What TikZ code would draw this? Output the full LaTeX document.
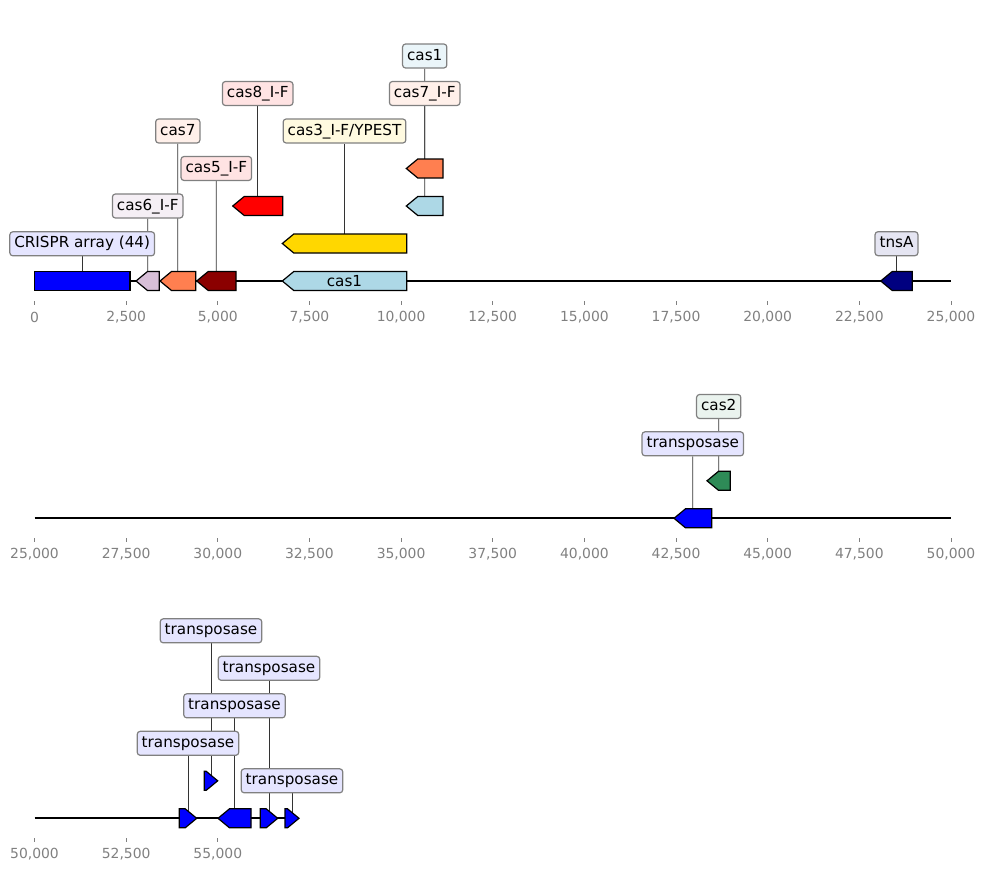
\documentclass[tikz,border=0pt]{standalone}
\usepackage{fontspec}
\setmainfont{DejaVu Sans}
\usetikzlibrary{backgrounds}

\definecolor{crispr}{HTML}{0000FF}
\definecolor{thistle}{HTML}{D8BFD8}
\definecolor{coral}{HTML}{FF7F50}
\definecolor{dred}{HTML}{8B0000}
\definecolor{lblue}{HTML}{ADD8E6}
\definecolor{gold}{HTML}{FFD700}
\definecolor{navy}{HTML}{000080}
\definecolor{sgreen}{HTML}{2E8B57}
\definecolor{axisgray}{HTML}{808080}

\newcommand{\lblfont}{\fontsize{15.2}{18}\selectfont}
\newcommand{\tickfont}{\fontsize{13.9}{16}\selectfont}

\pgfkeys{/pgf/number format/.cd, set thousands separator={,}, assume math mode=true}

\tikzset{
  lbl/.style={draw=axisgray, line width=1.2pt, rounded corners=3pt, inner xsep=4.5pt, inner ysep=4.5pt,
    font=\lblfont, text height=11.5pt, text depth=3.5pt},
  gene/.style={draw=black, line width=1.2pt, line join=miter},
  stem/.style={draw=black!80, line width=0.8pt},
  tickmark/.style={draw=axisgray, line width=1pt},
  ticklbl/.style={font=\tickfont, text=axisgray, inner sep=0pt},
  seq/.style={draw=black, line width=2pt}
}

% gene arrows: name, from, to, y, colour
\newcommand{\geneleft}[5]{%
  \pgfmathsetmacro{\hd}{min(11.5,#3-#2)}
  \filldraw[gene, fill=#5] (#3,#4-9.5) -- (#3,#4+9.5) -- (#2+\hd,#4+9.5) -- (#2,#4) -- (#2+\hd,#4-9.5) -- cycle;
  \coordinate (#1) at ({(#2+#3)/2},#4);}
\newcommand{\generight}[5]{%
  \pgfmathsetmacro{\hd}{min(11.5,#3-#2)}
  \filldraw[gene, fill=#5] (#2,#4-9.5) -- (#2,#4+9.5) -- (#3-\hd,#4+9.5) -- (#3,#4) -- (#3-\hd,#4-9.5) -- cycle;
  \coordinate (#1) at ({(#2+#3)/2},#4);}

\begin{document}
\begin{tikzpicture}[x=1pt, y=-1pt]
\useasboundingbox (0,0) rectangle (986,871);

% Row 1: 0 - 25,000
\foreach \i in {0,...,10} {
  \pgfmathsetmacro{\tx}{34.5+\i*91.65}
  \edef\tv{\the\numexpr\i*2500\relax}
  \draw[tickmark] (\tx,301) -- (\tx,305);
  \node[ticklbl] at (\tx,317) {\pgfmathprintnumber{\tv}};
}
\coordinate (s1a) at (34.5,281);
\coordinate (s1b) at (951,281);
\filldraw[gene, fill=crispr] (34.3,271.5) rectangle (130,290.5);
\coordinate (gcrispr) at (82.2,281);
\geneleft{gcasvi}{136}{159.3}{281}{thistle}
\geneleft{gcasvii}{160}{195.7}{281}{coral}
\geneleft{gcasv}{196.7}{236}{281}{dred}
\geneleft{gcasi}{282.3}{406.7}{281}{lblue}
\node[font=\lblfont] at (gcasi) {cas1};
\geneleft{gcasiii}{282.3}{406.7}{243.5}{gold}
\geneleft{gcasviii}{232.7}{282.7}{206}{red}
\geneleft{gcasib}{406.3}{443}{206}{lblue}
\geneleft{gcasviiif}{406.3}{443}{168.5}{coral}
\geneleft{gtnsa}{880.7}{912.3}{281}{navy}

\node[lbl, fill=crispr!10] (lcrispr) at (82.2,243.8) {CRISPR array (44)};
\node[lbl, fill=thistle!25] (lcasvi) at (147.7,206) {cas6\_I-F};
\node[lbl, fill=coral!12] (lcasvii) at (177.8,131) {cas7};
\node[lbl, fill=red!11] (lcasv) at (216.3,168.5) {cas5\_I-F};
\node[lbl, fill=red!11] (lcasviii) at (257.7,93.5) {cas8\_I-F};
\node[lbl, fill=gold!12] (lcasiii) at (344.5,131) {cas3\_I-F/YPEST};
\node[lbl, fill=coral!12] (lcasviiif) at (424.7,93.5) {cas7\_I-F};
\node[lbl, fill=lblue!25] (lcasib) at (424.7,56) {cas1};
\node[lbl, fill=navy!10] (ltnsa) at (896.5,243.7) {tnsA};

% Row 2: 25,000 - 50,000
\foreach \i in {0,...,10} {
  \pgfmathsetmacro{\tx}{34.5+\i*91.65}
  \edef\tv{\the\numexpr25000+\i*2500\relax}
  \draw[tickmark] (\tx,538.3) -- (\tx,542.3);
  \node[ticklbl] at (\tx,554.3) {\pgfmathprintnumber{\tv}};
}
\coordinate (s2a) at (34.5,518.3);
\coordinate (s2b) at (951,518.3);
\geneleft{gtpa}{674}{711.7}{518.3}{crispr}
\geneleft{gcasii}{707}{730.3}{480.8}{sgreen}
\node[lbl, fill=crispr!10] (ltpa) at (692.8,443.8) {transposase};
\node[lbl, fill=sgreen!10] (lcasii) at (718.7,406.5) {cas2};

% Row 3: 50,000 - end
\foreach \i in {0,...,2} {
  \pgfmathsetmacro{\tx}{34.5+\i*91.65}
  \edef\tv{\the\numexpr50000+\i*2500\relax}
  \draw[tickmark] (\tx,838.3) -- (\tx,842.3);
  \node[ticklbl] at (\tx,854.3) {\pgfmathprintnumber{\tv}};
}
\coordinate (s3a) at (34.5,818.3);
\coordinate (s3b) at (298.3,818.3);
\generight{gtpb}{179.3}{196.7}{818.3}{crispr}
\generight{gtpc}{204.3}{217.7}{780.8}{crispr}
\geneleft{gtpd}{218}{251}{818.3}{crispr}
\generight{gtpe}{260.3}{277.7}{818.3}{crispr}
\generight{gtpf}{285}{299}{818.3}{crispr}
\node[lbl, fill=crispr!10] (ltpb) at (188,743.3) {transposase};
\node[lbl, fill=crispr!10] (ltpc) at (211,630.8) {transposase};
\node[lbl, fill=crispr!10] (ltpd) at (234.5,705.8) {transposase};
\node[lbl, fill=crispr!10] (ltpe) at (269,668.3) {transposase};
\node[lbl, fill=crispr!10] (ltpf) at (292,780.8) {transposase};

% sequence lines and label stems
\begin{scope}[on background layer]
\draw[seq] (s1a) -- (s1b);
\draw[seq] (s2a) -- (s2b);
\draw[seq] (s3a) -- (s3b);
\foreach \g/\l in {gcrispr/lcrispr, gcasvi/lcasvi, gcasvii/lcasvii, gcasv/lcasv, gcasiii/lcasiii,
  gcasviii/lcasviii, gcasib/lcasib, gcasviiif/lcasviiif, gtnsa/ltnsa, gtpa/ltpa, gcasii/lcasii,
  gtpb/ltpb, gtpc/ltpc, gtpd/ltpd, gtpe/ltpe, gtpf/ltpf}
  \draw[stem] (\g) -- (\l);
\end{scope}
\end{tikzpicture}
\end{document}
